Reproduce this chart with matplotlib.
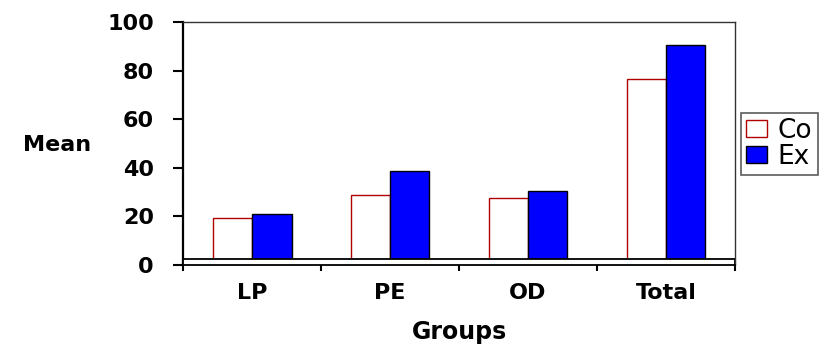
import matplotlib
matplotlib.use("Agg")
import matplotlib.pyplot as plt
import numpy as np

groups = ["LP", "PE", "OD", "Total"]
co = [19.5, 29, 27.5, 76.5]
ex = [21, 38.5, 30.5, 90.5]
legend_labels = ["Co", "Ex"]
yticks = [0, 20, 40, 60, 80, 100]

plt.rcParams['font.family'] = ['DejaVu Sans']

fig = plt.figure(figsize=(8.23, 3.49), dpi=100)
ax = fig.add_axes([0.2224, 0.2407, 0.6707, 0.6963])

x = np.arange(len(groups))
w = 0.286
b1 = ax.bar(x - w/2, co, w, color="white", edgecolor="#b00000", linewidth=1.0, zorder=2)
b2 = ax.bar(x + w/2, ex, w, color="#0000ff", edgecolor="black", linewidth=1.0, zorder=2)

# floor strip like the excel chart
ax.axhspan(0, 2.5, facecolor="white", edgecolor="black", linewidth=1.3, zorder=3)

ax.set_xlim(-0.5, len(groups) - 0.5)
ax.set_ylim(0, 100)
ax.set_yticks(yticks)
ax.set_yticklabels([str(t) for t in yticks], fontsize=16, fontweight="bold")
ax.set_xticks(np.arange(len(groups) + 1) - 0.5, minor=False)
ax.set_xticklabels([])
ax.set_xticks(x, minor=True)
ax.set_xticklabels(groups, minor=True, fontsize=16, fontweight="bold")
ax.tick_params(axis="x", which="minor", length=0, pad=13)
ax.tick_params(axis="x", which="major", direction="inout", length=8, width=1.5)
ax.tick_params(axis="y", direction="out", length=7, width=1.5, pad=14)

ax.spines["left"].set_linewidth(1.6)
ax.spines["bottom"].set_linewidth(1.3)
ax.spines["top"].set_linewidth(1.0)
ax.spines["right"].set_linewidth(1.0)
ax.spines["top"].set_color("#333333")
ax.spines["right"].set_color("#333333")

ax.set_xlabel("Groups", fontsize=17, fontweight="bold", labelpad=12)
ax.set_ylabel("Mean", fontsize=16, fontweight="bold", rotation=0,
              ha="center", va="center")
ax.yaxis.set_label_coords(-0.228, 0.494)

leg = fig.legend([b1, b2], legend_labels, loc="upper left",
                 bbox_to_anchor=(0.9, 0.677), fontsize=19, frameon=True,
                 fancybox=False, edgecolor="#333333", borderaxespad=0,
                 borderpad=0.2, labelspacing=0.0, handlelength=0.8,
                 handleheight=0.6, handletextpad=0.4)
leg.get_frame().set_linewidth(1.2)

fig.savefig("out.png", dpi=100)
